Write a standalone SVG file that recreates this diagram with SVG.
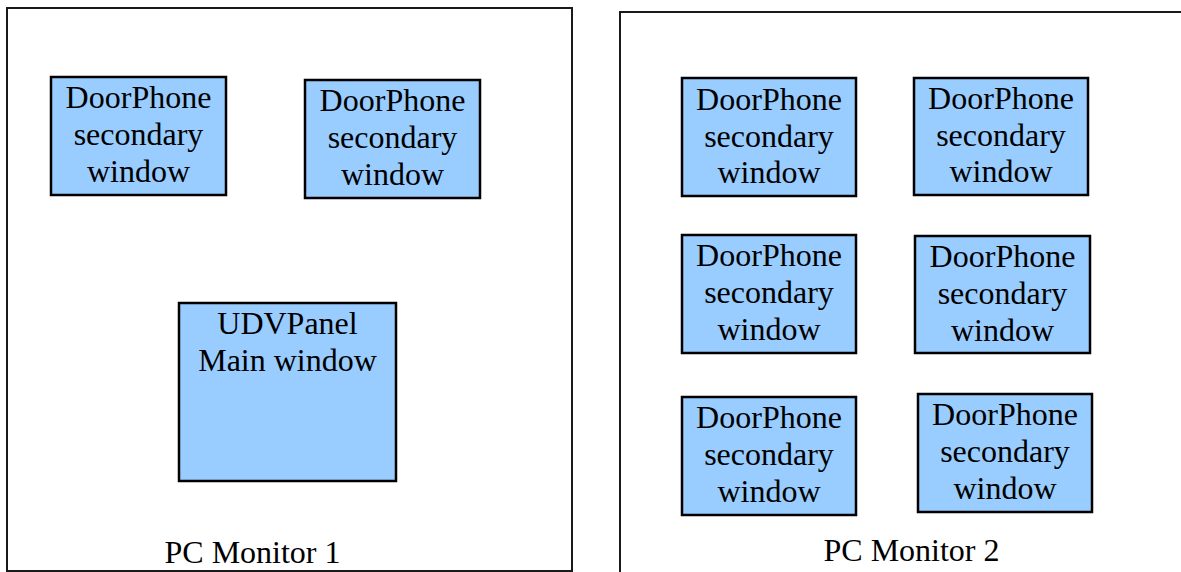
<svg xmlns="http://www.w3.org/2000/svg" width="1181" height="572" viewBox="0 0 1181 572">
<style>
.mon{fill:#fff;stroke:#1a1a1a;stroke-width:2}
.win{fill:#99ccff;stroke:#000;stroke-width:2.5}
.t{font-family:"Liberation Serif","Times New Roman",serif;font-size:32px;fill:#000;text-anchor:middle}
</style>
<rect width="1181" height="572" fill="#fff"/>
<g id="monitor1">
<rect class="mon" x="7" y="8" width="565" height="563"/>
<text class="t" x="252.5" y="563">PC Monitor 1</text>
</g>
<g id="monitor2">
<rect class="mon" x="620" y="12" width="600" height="600"/>
<text class="t" x="911.5" y="561">PC Monitor 2</text>
</g>
<g id="m1-win1">
<rect class="win" x="51" y="77" width="175" height="118"/>
<text class="t" x="138.5" y="108">DoorPhone</text>
<text class="t" x="138.5" y="145">secondary</text>
<text class="t" x="138.5" y="182">window</text>
</g>
<g id="m1-win2">
<rect class="win" x="305" y="80" width="175" height="118"/>
<text class="t" x="392.5" y="111">DoorPhone</text>
<text class="t" x="392.5" y="148">secondary</text>
<text class="t" x="392.5" y="185">window</text>
</g>
<g id="m1-main">
<rect class="win" x="179" y="303" width="217" height="178"/>
<text class="t" x="287.5" y="334">UDVPanel</text>
<text class="t" x="287.5" y="371">Main window</text>
</g>
<g id="m2-win1">
<rect class="win" x="682" y="78" width="174" height="118"/>
<text class="t" x="769" y="110">DoorPhone</text>
<text class="t" x="769" y="147">secondary</text>
<text class="t" x="769" y="183">window</text>
</g>
<g id="m2-win2">
<rect class="win" x="914" y="78" width="174" height="117"/>
<text class="t" x="1001" y="109">DoorPhone</text>
<text class="t" x="1001" y="146">secondary</text>
<text class="t" x="1001" y="182">window</text>
</g>
<g id="m2-win3">
<rect class="win" x="682" y="235" width="174" height="118"/>
<text class="t" x="769" y="266">DoorPhone</text>
<text class="t" x="769" y="303">secondary</text>
<text class="t" x="769" y="340">window</text>
</g>
<g id="m2-win4">
<rect class="win" x="915" y="236" width="175" height="117"/>
<text class="t" x="1002.5" y="267">DoorPhone</text>
<text class="t" x="1002.5" y="304">secondary</text>
<text class="t" x="1002.5" y="341">window</text>
</g>
<g id="m2-win5">
<rect class="win" x="682" y="397" width="174" height="118"/>
<text class="t" x="769" y="428">DoorPhone</text>
<text class="t" x="769" y="465">secondary</text>
<text class="t" x="769" y="502">window</text>
</g>
<g id="m2-win6">
<rect class="win" x="918" y="394" width="174" height="118"/>
<text class="t" x="1005" y="425">DoorPhone</text>
<text class="t" x="1005" y="462">secondary</text>
<text class="t" x="1005" y="499">window</text>
</g>
<g id="connectors"/>
</svg>
